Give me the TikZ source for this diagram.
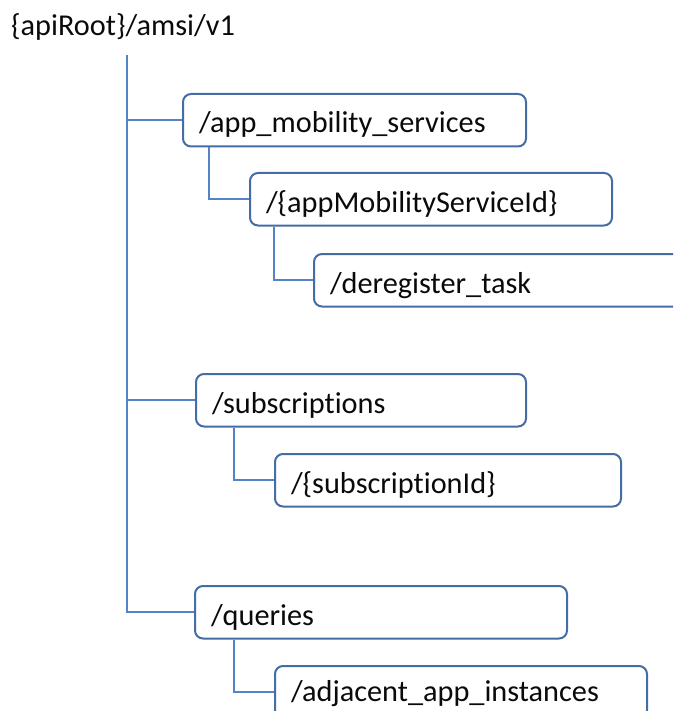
\documentclass[tikz,border=0pt]{standalone}
\usepackage{fontspec}
\setmainfont{Carlito}[Ligatures=CommonOff]
\definecolor{boxblue}{RGB}{68,108,165}
\definecolor{linkblue}{RGB}{84,132,200}
\definecolor{ink}{RGB}{10,10,10}
\begin{document}
\begin{tikzpicture}[x=1pt,y=-1pt,
  label/.style={font=\fontsize{30.3}{36}\selectfont, text=ink, inner sep=0pt},
  box/.style={draw=boxblue, fill=white, line width=2pt, rounded corners=8pt,
    inner xsep=16pt, inner ysep=0pt, text height=39pt, text depth=13.5pt,
    align=left, anchor=north west, font=\fontsize{30.3}{36}\selectfont, text=ink},
  link/.style={draw=linkblue, line width=2pt}]
\useasboundingbox (0,0) rectangle (673,711);
\clip (0,0) rectangle (673,711);

% root path label
\node[label, anchor=base west] (root) at (11,36) {\{apiRoot\}/amsi/v1};
\coordinate (trunktop) at (127,55);

% resource boxes
\node[box, text width=311pt] (ams)  at (182,93)  {/app\_mobility\_services};
\node[box, text width=330pt] (amsid) at (249,172) {/\{appMobilityServiceId\}};
\node[box, text width=348pt] (dereg) at (313,253) {/deregister\_task};
\node[box, text width=298pt] (subs) at (195,373) {/subscriptions};
\node[box, text width=314pt] (subid) at (274,453) {/\{subscriptionId\}};
\node[box, text width=340pt] (qry)  at (194,585) {/queries};
\node[box, text width=340pt, text height=35pt, text depth=17.5pt] (adj)  at (274,665) {/adjacent\_app\_instances};

% tree connectors
\draw[link] (trunktop) |- (qry.west);
\draw[link] (trunktop |- ams.west) -- (ams.west);
\draw[link] (trunktop |- subs.west) -- (subs.west);
\draw[link] ([xshift=27pt]ams.south west) |- (amsid.west);
\draw[link] ([xshift=25pt]amsid.south west) |- (dereg.west);
\draw[link] ([xshift=39pt]subs.south west) |- (subid.west);
\draw[link] ([xshift=40pt]qry.south west) |- (adj.west);
\end{tikzpicture}
\end{document}
